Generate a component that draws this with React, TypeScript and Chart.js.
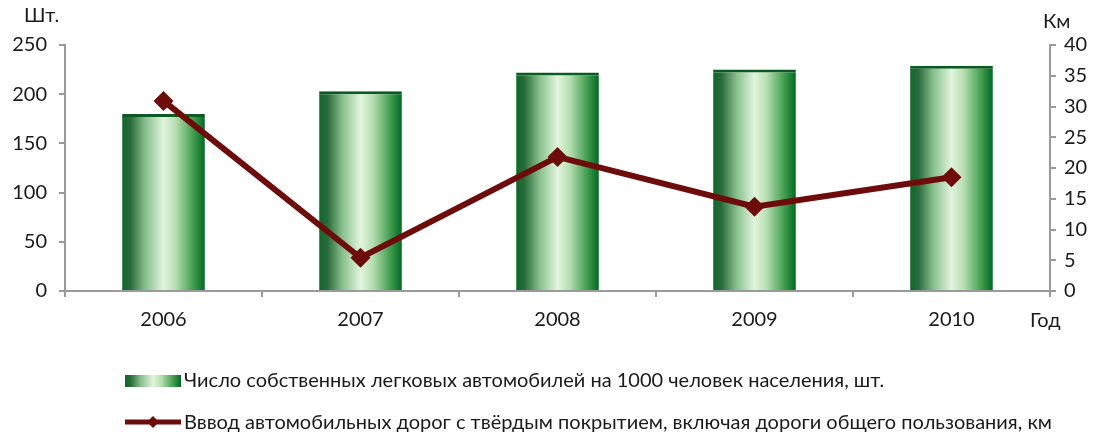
import React, { useEffect, useRef } from "react";
import { Chart, registerables } from "chart.js";

Chart.register(...registerables);

const years = ["2006", "2007", "2008", "2009", "2010"];
const carsPer1000 = [180, 203, 222, 225, 229];
const roadsKm = [30.9, 5.4, 21.8, 13.7, 18.5];
const leftTicks = [0, 50, 100, 150, 200, 250];
const rightTicks = [0, 5, 10, 15, 20, 25, 30, 35, 40];
const barLabel = "Число собственных легковых автомобилей на 1000 человек населения, шт.";
const lineLabel = "Вввод автомобильных дорог с твёрдым покрытием, включая дороги общего пользования, км";
const leftUnit = "Шт.";
const rightUnit = "Км";
const xUnit = "Год";

const FONT = "Lato, 'Open Sans', sans-serif";
const TEXT = "#1a1a1a";
const AXIS = "#9a9a9a";
const LINE = "#6e0c0c";

function makeGradient(ctx: CanvasRenderingContext2D, x0: number, x1: number) {
  const g = ctx.createLinearGradient(x0, 0, x1, 0);
  g.addColorStop(0, "#0b6a28");
  g.addColorStop(0.1, "#2a6a3a");
  g.addColorStop(0.28, "#86bf8c");
  g.addColorStop(0.5, "#e2f5dd");
  g.addColorStop(0.65, "#b5deb1");
  g.addColorStop(0.85, "#46a052");
  g.addColorStop(1, "#006a22");
  return g;
}

const BAR_PCT = 0.42;

const extras = {
  id: "extras",
  afterDraw(chart: any) {
    const ctx = chart.ctx as CanvasRenderingContext2D;
    ctx.save();
    ctx.fillStyle = TEXT;
    ctx.font = `20px ${FONT}`;
    ctx.textBaseline = "middle";
    ctx.textAlign = "left";
    ctx.fillText(leftUnit, 24, 16);
    ctx.fillText(rightUnit, 1043, 22);
    ctx.fillText(xUnit, 1030, 321);

    // legend item 1
    const lx0 = 125, lx1 = 181;
    const g = makeGradient(ctx, lx0, lx1);
    ctx.fillStyle = g;
    ctx.fillRect(lx0, 375, lx1 - lx0, 12);
    ctx.fillStyle = TEXT;
    ctx.fillText(barLabel, 184, 381);

    // legend item 2
    ctx.strokeStyle = LINE;
    ctx.lineWidth = 5;
    ctx.beginPath();
    ctx.moveTo(lx0, 422);
    ctx.lineTo(lx1, 422);
    ctx.stroke();
    ctx.fillStyle = LINE;
    ctx.beginPath();
    const cx = 153, cy = 422, r = 6;
    ctx.moveTo(cx, cy - r);
    ctx.lineTo(cx + r, cy);
    ctx.lineTo(cx, cy + r);
    ctx.lineTo(cx - r, cy);
    ctx.closePath();
    ctx.fill();
    ctx.fillStyle = TEXT;
    ctx.fillText(lineLabel, 184, 423);
    ctx.restore();
  },
};

export default function App() {
  const ref = useRef<HTMLCanvasElement>(null);
  useEffect(() => {
    document.body.style.margin = "0";
    const canvas = ref.current!;
    const chart = new Chart(canvas, {
      type: "bar",
      data: {
        labels: years,
        datasets: [
          {
            type: "line",
            label: lineLabel,
            data: roadsKm,
            yAxisID: "y1",
            borderColor: LINE,
            backgroundColor: LINE,
            borderWidth: 6,
            pointStyle: "rectRot",
            pointRadius: 10,
            pointBorderWidth: 0,
            pointBackgroundColor: LINE,
            order: 0,
          } as any,
          {
            type: "bar",
            label: barLabel,
            data: carsPer1000,
            yAxisID: "y",
            categoryPercentage: 1,
            barPercentage: BAR_PCT,
            borderColor: "#0b5a22",
            borderWidth: { top: 3, left: 0, right: 0, bottom: 0 },
            borderSkipped: "bottom",
            backgroundColor: (c: any) => {
              const ch = c.chart;
              const xs = ch.scales && ch.scales.x;
              if (!xs || !ch.chartArea) return "#3a8a4a";
              const cw = (ch.chartArea.right - ch.chartArea.left) / years.length;
              const w = cw * BAR_PCT;
              const cxp = xs.getPixelForValue(c.dataIndex);
              return makeGradient(ch.ctx, cxp - w / 2, cxp + w / 2);
            },
            order: 1,
          } as any,
        ],
      },
      options: {
        animation: false,
        responsive: false,
        maintainAspectRatio: false,
        layout: { padding: { top: 45, left: 0, right: 0, bottom: 0 } },
        plugins: {
          legend: { display: false },
          tooltip: { enabled: false },
        },
        scales: {
          x: {
            offset: true,
            grid: {
              offset: true,
              drawOnChartArea: false,
              drawTicks: true,
              tickLength: 6,
              color: AXIS,
              lineWidth: 2,
            },
            border: { color: AXIS, width: 2 },
            ticks: {
              color: TEXT,
              font: { family: FONT, size: 20 },
              padding: 11,
              maxRotation: 0,
            },
            afterFit: (s: any) => {
              s.height = 435 - 45 - 246;
            },
          },
          y: {
            position: "left",
            min: 0,
            max: 250,
            afterBuildTicks: (s: any) => {
              s.ticks = leftTicks.map((v) => ({ value: v }));
            },
            grid: {
              drawOnChartArea: false,
              drawTicks: true,
              tickLength: 6,
              color: AXIS,
              lineWidth: 2,
            },
            border: { color: AXIS, width: 2 },
            ticks: {
              color: TEXT,
              font: { family: FONT, size: 20 },
              padding: 12,
            },
            afterFit: (s: any) => {
              s.width = 65;
            },
          },
          y1: {
            position: "right",
            min: 0,
            max: 40,
            afterBuildTicks: (s: any) => {
              s.ticks = rightTicks.map((v) => ({ value: v }));
            },
            grid: {
              drawOnChartArea: false,
              drawTicks: true,
              tickLength: 6,
              color: AXIS,
              lineWidth: 2,
            },
            border: { color: AXIS, width: 2 },
            ticks: {
              color: TEXT,
              font: { family: FONT, size: 20 },
              padding: 8,
            },
            afterFit: (s: any) => {
              s.width = 1094 - 1050;
            },
          },
        },
      },
      plugins: [extras],
    });
    return () => chart.destroy();
  }, []);
  return (
    <div style={{ width: 1094, height: 435, background: "#fff" }}>
      <canvas ref={ref} width={1094} height={435} style={{ display: "block" }} />
    </div>
  );
}
